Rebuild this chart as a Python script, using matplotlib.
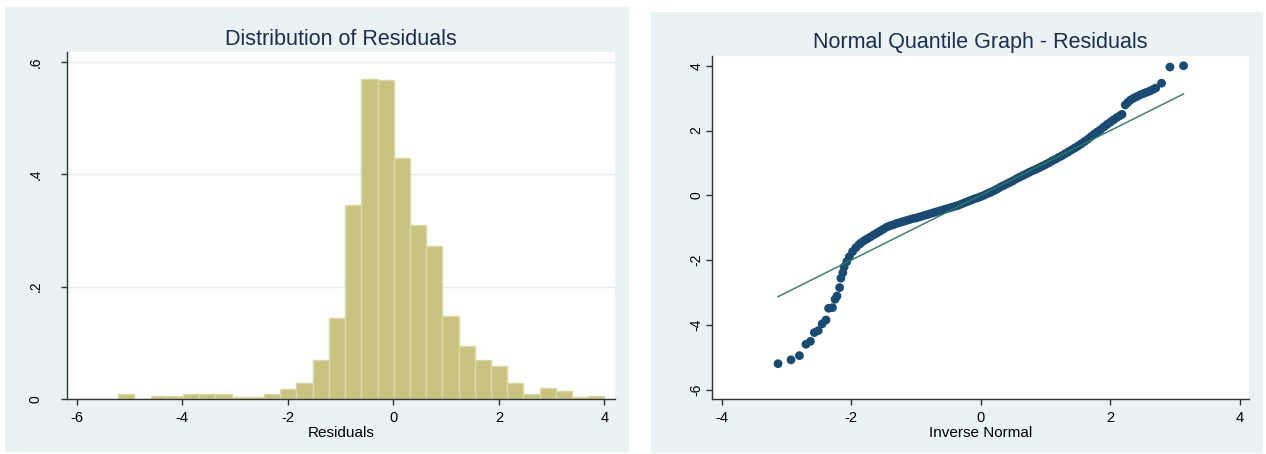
import numpy as np
import matplotlib
matplotlib.use("Agg")
import matplotlib.pyplot as plt
from matplotlib.patches import Rectangle

plt.rcParams['font.family'] = ['Liberation Sans', 'DejaVu Sans']
plt.rcParams['axes.unicode_minus'] = False

# histogram of residuals: 30 equal bins starting at bin_start
bin_start = -5.21
bin_width = 0.307
density = [0.0083, 0.0, 0.0053, 0.0053, 0.0083, 0.0083, 0.0083, 0.003, 0.003, 0.0083,
           0.017, 0.028, 0.069, 0.144, 0.345, 0.570, 0.567, 0.428, 0.309, 0.272,
           0.147, 0.095, 0.069, 0.059, 0.028, 0.0083, 0.020, 0.014, 0.003, 0.006]
hist_xticks = [-6, -4, -2, 0, 2, 4]
hist_yticks = [0, 0.2, 0.4, 0.6]
hist_ylabels = ['0', '.2', '.4', '.6']

# normal quantile plot: inverse normal vs sorted residuals
qx = [-3.13, -2.93, -2.80, -2.70, -2.63, -2.57, -2.51, -2.45, -2.39, -2.35,
      -2.29, -2.25, -2.22, -2.18, -2.16, -2.13, -2.11, -2.07, -2.03, -1.98,
      -1.93, -1.88, -1.85, -1.80, -1.75, -1.70, -1.65, -1.60, -1.55, -1.50,
      -1.45, -1.40, -1.35, -1.30, -1.25, -1.20, -1.15, -1.10, -1.05, -1.00,
      -0.95, -0.90, -0.85, -0.80, -0.75, -0.70, -0.65, -0.60, -0.55, -0.50,
      -0.45, -0.40, -0.35, -0.30, -0.25, -0.20, -0.15, -0.10, -0.05, 0.00,
      0.05, 0.10, 0.15, 0.20, 0.25, 0.30, 0.35, 0.40, 0.45, 0.50,
      0.55, 0.60, 0.65, 0.70, 0.75, 0.80, 0.85, 0.90, 0.95, 1.00,
      1.05, 1.10, 1.15, 1.20, 1.25, 1.30, 1.35, 1.40, 1.45, 1.50,
      1.55, 1.60, 1.65, 1.70, 1.75, 1.80, 1.85, 1.90, 1.95, 2.00,
      2.05, 2.10, 2.15, 2.18, 2.23, 2.27, 2.31, 2.36, 2.41, 2.46,
      2.51, 2.56, 2.61, 2.66, 2.70, 2.79, 2.92, 3.13]
qy = [-5.20, -5.08, -4.95, -4.60, -4.51, -4.24, -4.18, -3.97, -3.85, -3.49,
      -3.47, -3.21, -3.11, -2.85, -2.56, -2.39, -2.21, -2.05, -1.90, -1.74,
      -1.62, -1.52, -1.47, -1.40, -1.34, -1.28, -1.22, -1.16, -1.10, -1.04,
      -0.98, -0.94, -0.91, -0.87, -0.84, -0.81, -0.78, -0.75, -0.72, -0.70,
      -0.67, -0.64, -0.61, -0.58, -0.55, -0.52, -0.49, -0.46, -0.43, -0.40,
      -0.37, -0.34, -0.31, -0.27, -0.23, -0.19, -0.15, -0.11, -0.08, -0.04,
      0.00, 0.05, 0.09, 0.14, 0.19, 0.25, 0.30, 0.35, 0.40, 0.45,
      0.51, 0.56, 0.61, 0.66, 0.71, 0.76, 0.80, 0.85, 0.90, 0.95,
      1.00, 1.06, 1.11, 1.17, 1.22, 1.28, 1.34, 1.40, 1.46, 1.52,
      1.59, 1.66, 1.73, 1.81, 1.89, 1.96, 2.03, 2.11, 2.19, 2.26,
      2.33, 2.40, 2.46, 2.50, 2.79, 2.87, 2.94, 3.00, 3.05, 3.10,
      3.14, 3.18, 3.22, 3.27, 3.31, 3.46, 3.96, 4.00]
qq_xticks = [-4, -2, 0, 2, 4]
qq_yticks = [-6, -4, -2, 0, 2, 4]

panel_bg = '#eaf2f3'
title_col = '#1d2d50'
axis_col = '#333333'

fig = plt.figure(figsize=(12.66, 4.54), dpi=100, facecolor='white')
W, H = 1266.0, 454.0

def px_rect(x0, y0, x1, y1):
    return [x0 / W, 1 - y1 / H, (x1 - x0) / W, (y1 - y0) / H]

# grey panel backgrounds
for x0, y0, x1, y1 in [(5, 7, 629, 452), (651, 12, 1263, 453)]:
    r = px_rect(x0, y0, x1, y1)
    fig.add_artist(Rectangle((r[0], r[1]), r[2], r[3], transform=fig.transFigure,
                             facecolor=panel_bg, edgecolor='none', zorder=0))

def style_axes(ax, ypad):
    for s in ['top', 'right']:
        ax.spines[s].set_visible(False)
    for s in ['left', 'bottom']:
        ax.spines[s].set_color(axis_col)
        ax.spines[s].set_linewidth(1.0)
    ax.tick_params(axis='both', direction='out', length=4.3, width=1.0, color=axis_col,
                   labelsize=10.5, labelcolor='black')
    ax.tick_params(axis='x', pad=4)
    ax.tick_params(axis='y', labelrotation=90, pad=ypad, labelsize=10)
    for lab in ax.get_yticklabels():
        lab.set_verticalalignment('center')

# left: histogram
ax1 = fig.add_axes(px_rect(67, 51.7, 615, 399))
ax1.set_facecolor('white')
edges = bin_start + bin_width * np.arange(len(density) + 1)
ax1.bar(edges[:-1], density, width=bin_width, align='edge',
        color='#c9c382', edgecolor='#dcd8a4', linewidth=1.0, zorder=2)
ax1.set_xlim(-6.18, 4.2)
ax1.set_ylim(0, 0.618)
ax1.set_xticks(hist_xticks)
ax1.set_yticks(hist_yticks)
ax1.set_yticklabels(hist_ylabels)
ax1.yaxis.grid(True, color='#e3ecef', linewidth=1.0, zorder=0)
ax1.set_axisbelow(True)
style_axes(ax1, 13)
ax1.set_xlabel('Residuals', fontsize=11)
ax1.xaxis.set_label_coords(0.5, -0.077)
ax1.text(0.5, 1 + 6.7 / 347.3, 'Distribution of Residuals', transform=ax1.transAxes,
         ha='center', va='baseline', fontsize=15.5, color=title_col)

# right: normal quantile plot
ax2 = fig.add_axes(px_rect(712, 55.7, 1249, 399))
ax2.set_facecolor('white')
ax2.scatter(qx, qy, s=40, color='#1a4a72', edgecolors='none', zorder=2)
lo, hi = min(qx), max(qx)
ax2.plot([lo, hi], [lo, hi], color='#2d7a5f', linewidth=1.0, zorder=3)
ax2.set_xlim(-4.15, 4.14)
ax2.set_ylim(-6.29, 4.31)
ax2.set_xticks(qq_xticks)
ax2.set_yticks(qq_yticks)
style_axes(ax2, 1.7)
ax2.set_xlabel('Inverse Normal', fontsize=11)
ax2.xaxis.set_label_coords(0.5, -0.0775)
ax2.text(0.5, 1 + 7.4 / 343.3, 'Normal Quantile Graph - Residuals', transform=ax2.transAxes,
         ha='center', va='baseline', fontsize=15.5, color=title_col)

fig.savefig('out.png', dpi=100, facecolor='white')
